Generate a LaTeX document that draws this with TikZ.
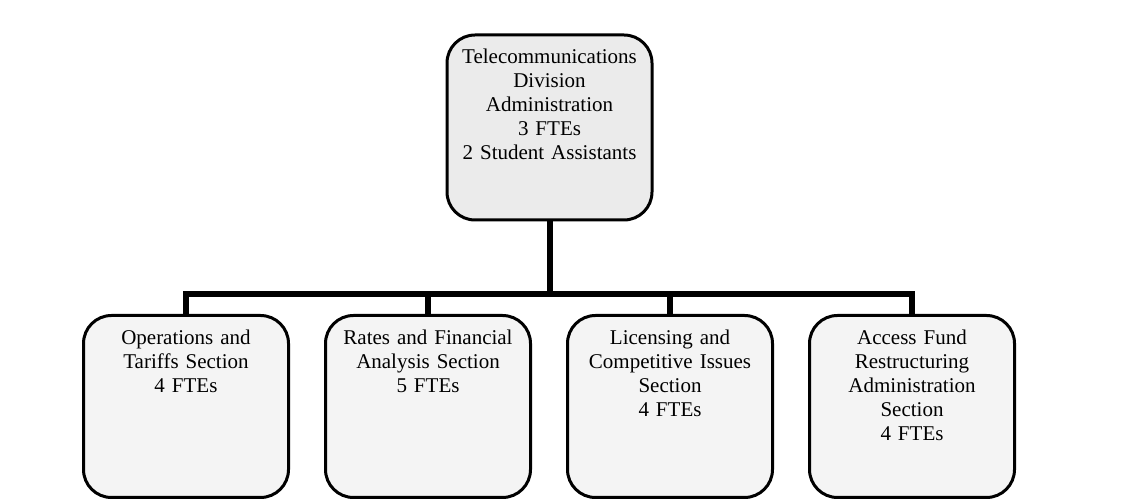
\documentclass[tikz,border=0pt]{standalone}
\usepackage{fontspec}
\setmainfont{Liberation Serif}
\usetikzlibrary{positioning}
\definecolor{headfill}{HTML}{EBEBEB}
\definecolor{unitfill}{HTML}{F4F4F4}

\begin{document}
\begin{tikzpicture}[x=1pt, y=1pt, node distance = 34pt,
		unit/.style = {draw, line width=3pt, rounded corners=28pt, fill=unitfill,
			text width=195pt, inner xsep=5pt, inner ysep=0pt, align=center,
			font=\fontsize{21}{24}\selectfont, text height=29pt, text depth=153pt, anchor=north},
		head/.style = {unit, fill=headfill, text height=28.5pt, text depth=156.5pt},
		link/.style = {line width=6pt}]
		\useasboundingbox (0,0) rectangle (1135,500);
		\node[head] (div) at (549.5,466.5) {Telecommunications\\Division\\Administration\\3 FTEs\\2 Student Assistants};
		\node[unit] (ops) at (186,186) {Operations and\\Tariffs Section\\4 FTEs};
		\node[unit, right = of ops] (rates) {Rates and Financial\\Analysis Section\\5 FTEs};
		\node[unit, right = of rates] (lic) {Licensing and\\Competitive Issues\\Section\\4 FTEs};
		\node[unit, right = of lic] (acc) {Access Fund\\Restructuring\\Administration\\Section\\4 FTEs};
		\coordinate (bus) at (0,206);
		\draw[link] (div.south) -- (div.south |- bus);
		\draw[link] (ops.north) |- (acc.north |- bus) -- (acc.north);
		\draw[link] (rates.north) -- (rates.north |- bus);
		\draw[link] (lic.north) -- (lic.north |- bus);
	\end{tikzpicture}
\end{document}
